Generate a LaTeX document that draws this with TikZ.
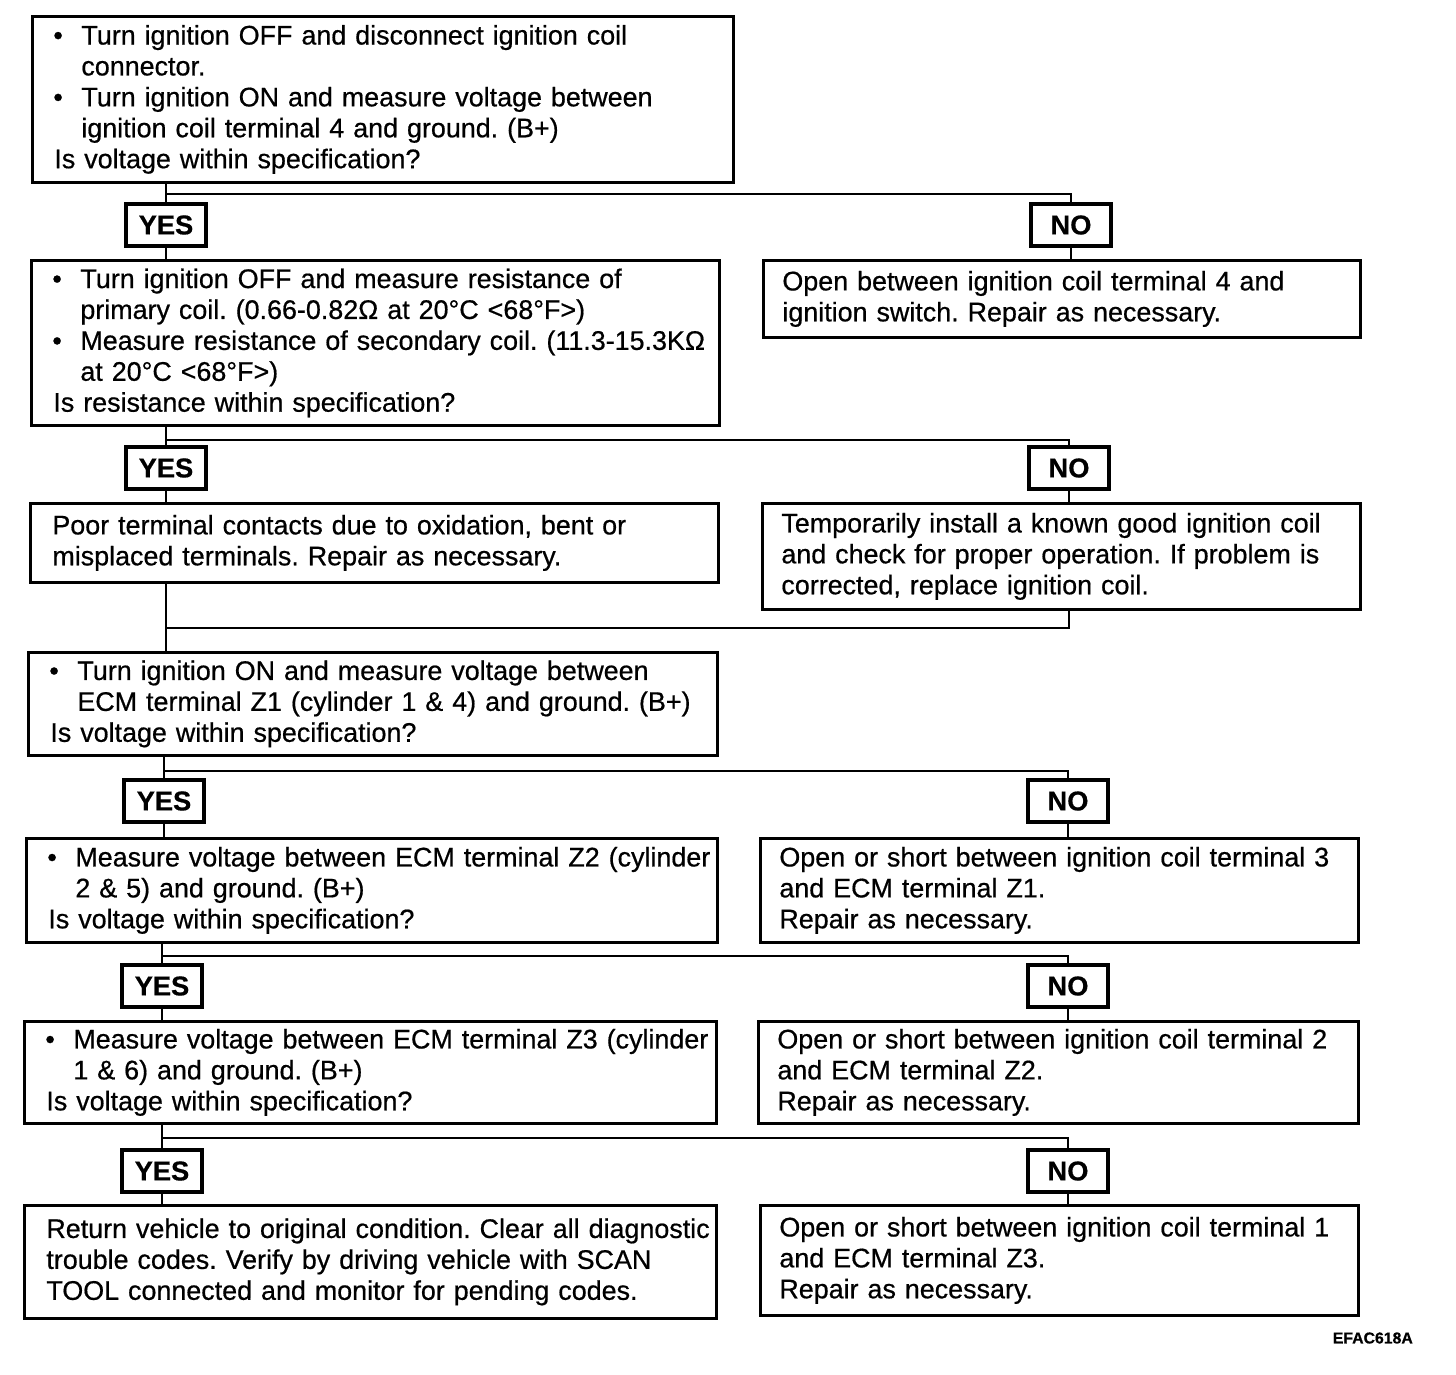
\documentclass[tikz,border=0pt]{standalone}
\usepackage{fontspec}
\setmainfont{Liberation Sans}[FakeBold=0.6]
\usetikzlibrary{positioning}
\newcommand{\itm}{\hspace*{0.38cm}\makebox[0.56cm][l]{\textbullet}}
\newcommand{\ind}{\hspace*{0.94cm}}
\newcommand{\lne}{\hspace*{0.40cm}}
\newcommand{\rln}{\hspace*{0.34cm}}
\frenchspacing

\begin{document}
\begin{tikzpicture}[x=0.02cm, y=-0.02cm,
    chk/.style 2 args={draw, line width=1.6pt, anchor=north west, align=left, inner xsep=0.04cm, inner ysep=0pt, text width=#1, minimum height=#2, font=\fontsize{15.3}{17.6}\selectfont},
    yn/.style={draw, line width=1.8pt, minimum width=1.6cm, minimum height=0.84cm, inner sep=0pt, font=\bfseries\fontsize{15.5}{16}\selectfont},
    link/.style={line width=1.4pt}
]
    \useasboundingbox (0,0) rectangle (1456,1374);

    % Branch levels
    \coordinate (br1) at (0,194);
    \coordinate (br2) at (0,440);
    \coordinate (mrg) at (0,628);
    \coordinate (br3) at (0,771);
    \coordinate (br4) at (0,956);
    \coordinate (br5) at (0,1138);

    % Supply voltage check
    \node[chk={13.94cm}{3.32cm}] (ign) at (31,15) {\itm Turn ignition OFF and disconnect ignition coil\\
        \ind connector.\\
        \itm Turn ignition ON and measure voltage between\\
        \ind ignition coil terminal 4 and ground. (B+)\\
        \lne Is voltage within specification?};
    \node[yn] (yes1) at (166,225) {YES};
    \node[yn] (no1) at (1071,225) {NO};

    % Coil resistance
    \node[chk={13.68cm}{3.30cm}] (coil) at (30,259) {\itm Turn ignition OFF and measure resistance of\\
        \ind primary coil. (0.66-0.82Ω at 20°C <68°F>)\\
        \itm Measure resistance of secondary coil. (11.3-15.3KΩ\\
        \ind at 20°C <68°F>)\\
        \lne Is resistance within specification?};
    \node[chk={11.86cm}{1.54cm}] (opensw) at (762,259) {\rln Open between ignition coil terminal 4 and\\
        \rln ignition switch. Repair as necessary.};
    \node[yn] (yes2) at (166,468) {YES};
    \node[yn] (no2) at (1069,468) {NO};

    \node[chk={13.68cm}{1.58cm}] (poor) at (29,502) {\lne Poor terminal contacts due to oxidation, bent or\\
        \lne misplaced terminals. Repair as necessary.};
    \node[chk={11.88cm}{2.12cm}] (swap) at (761,502) {\rln Temporarily install a known good ignition coil\\
        \rln and check for proper operation. If problem is\\
        \rln corrected, replace ignition coil.};

    % ECM terminals
    \node[chk={13.70cm}{2.06cm}] (zone1) at (27,651) {\itm Turn ignition ON and measure voltage between\\
        \ind ECM terminal Z1 (cylinder 1 \& 4) and ground. (B+)\\
        \lne Is voltage within specification?};
    \node[yn] (yes3) at (164,801) {YES};
    \node[yn] (no3) at (1068,801) {NO};

    \node[chk={13.74cm}{2.08cm}] (zone2) at (25,837) {\itm Measure voltage between ECM terminal Z2 (cylinder\\
        \ind 2 \& 5) and ground. (B+)\\
        \lne Is voltage within specification?};
    \node[chk={11.88cm}{2.08cm}] (short1) at (759,837) {\rln Open or short between ignition coil terminal 3\\
        \rln and ECM terminal Z1.\\
        \rln Repair as necessary.};
    \node[yn] (yes4) at (162,986) {YES};
    \node[yn] (no4) at (1068,986) {NO};

    \node[chk={13.76cm}{2.04cm}] (zone3) at (23,1020) {\itm Measure voltage between ECM terminal Z3 (cylinder\\
        \ind 1 \& 6) and ground. (B+)\\
        \lne Is voltage within specification?};
    \node[chk={11.92cm}{2.04cm}] (short2) at (757,1020) {\rln Open or short between ignition coil terminal 2\\
        \rln and ECM terminal Z2.\\
        \rln Repair as necessary.};
    \node[yn] (yes5) at (162,1171) {YES};
    \node[yn] (no5) at (1068,1171) {NO};

    \node[chk={13.76cm}{2.26cm}] (done) at (23,1204) {\lne Return vehicle to original condition. Clear all diagnostic\\
        \lne trouble codes. Verify by driving vehicle with SCAN\\
        \lne TOOL connected and monitor for pending codes.};
    \node[chk={11.88cm}{2.20cm}] (short3) at (759,1204) {\rln Open or short between ignition coil terminal 1\\
        \rln and ECM terminal Z3.\\
        \rln Repair as necessary.};

    \node[anchor=east, font=\bfseries\fontsize{9}{10}\selectfont] (code) at (1419,1338) {EFAC618A};

    % Connections
    \draw[link] (yes1 |- ign.south) -- (yes1.north);
    \draw[link] (yes1 |- br1) -| (no1.north);
    \draw[link] (yes1.south) -- (yes1 |- coil.north);
    \draw[link] (no1.south) -- (no1 |- opensw.north);

    \draw[link] (yes2 |- coil.south) -- (yes2.north);
    \draw[link] (yes2 |- br2) -| (no2.north);
    \draw[link] (yes2.south) -- (yes2 |- poor.north);
    \draw[link] (no2.south) -- (no2 |- swap.north);

    \draw[link] (yes2 |- poor.south) -- (yes2 |- zone1.north);
    \draw[link] (no2 |- swap.south) |- (yes2 |- mrg);

    \draw[link] (yes3 |- zone1.south) -- (yes3.north);
    \draw[link] (yes3 |- br3) -| (no3.north);
    \draw[link] (yes3.south) -- (yes3 |- zone2.north);
    \draw[link] (no3.south) -- (no3 |- short1.north);

    \draw[link] (yes4 |- zone2.south) -- (yes4.north);
    \draw[link] (yes4 |- br4) -| (no4.north);
    \draw[link] (yes4.south) -- (yes4 |- zone3.north);
    \draw[link] (no4.south) -- (no4 |- short2.north);

    \draw[link] (yes5 |- zone3.south) -- (yes5.north);
    \draw[link] (yes5 |- br5) -| (no5.north);
    \draw[link] (yes5.south) -- (yes5 |- done.north);
    \draw[link] (no5.south) -- (no5 |- short3.north);

\end{tikzpicture}
\end{document}
